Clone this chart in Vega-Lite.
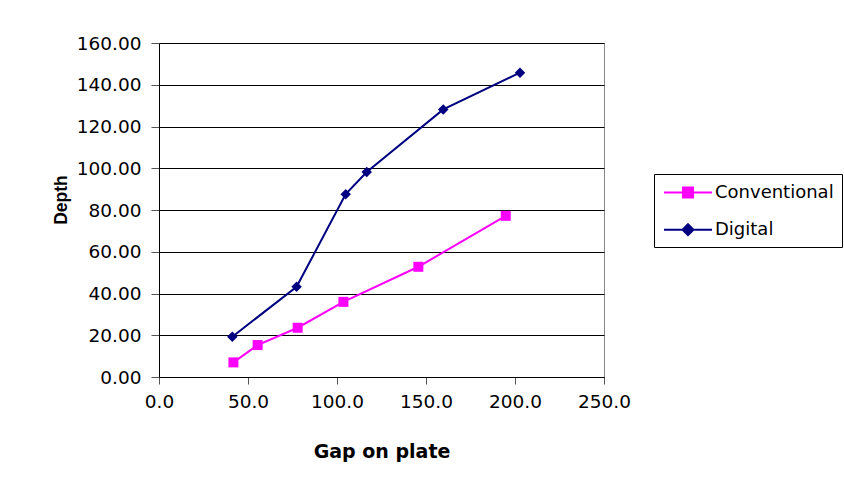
{
  "$schema": "https://vega.github.io/schema/vega-lite/v6.json",
  "autosize": {"type": "none"},
  "width": 445,
  "height": 334,
  "padding": {"left": 159, "top": 43, "right": 240, "bottom": 112},
  "background": "#ffffff",
  "config": {
    "view": {"stroke": "#888888", "strokeWidth": 1},
    "axis": {
      "labelFont": "DejaVu Sans",
      "labelFontSize": 18.5,
      "labelColor": "#000000",
      "domainColor": "#000000",
      "tickColor": "#555555",
      "titleColor": "#000000"
    }
  },
  "data": {
    "values": [
      {"series": "Conventional", "gap": 41.8, "depth": 7.0},
      {"series": "Conventional", "gap": 55.4, "depth": 15.3},
      {"series": "Conventional", "gap": 77.9, "depth": 23.6},
      {"series": "Conventional", "gap": 103.6, "depth": 36.0},
      {"series": "Conventional", "gap": 145.7, "depth": 52.8},
      {"series": "Conventional", "gap": 194.8, "depth": 77.2},
      {"series": "Digital", "gap": 41.2, "depth": 19.3},
      {"series": "Digital", "gap": 77.3, "depth": 43.2},
      {"series": "Digital", "gap": 104.9, "depth": 87.6},
      {"series": "Digital", "gap": 116.7, "depth": 98.2},
      {"series": "Digital", "gap": 159.7, "depth": 128.2},
      {"series": "Digital", "gap": 202.8, "depth": 145.8}
    ]
  },
  "encoding": {
    "x": {
      "field": "gap",
      "type": "quantitative",
      "scale": {"domain": [0, 250], "nice": false},
      "axis": {
        "values": [0, 50, 100, 150, 200, 250],
        "format": ".1f",
        "grid": false,
        "tickSize": 7,
        "labelPadding": 8,
        "labelFlush": false,
        "labelOverlap": false,
        "title": "Gap on plate",
        "titleFont": "DejaVu Sans",
        "titleFontSize": 19,
        "titleFontWeight": "bold",
        "titleBaseline": "alphabetic",
        "titleY": 80
      }
    },
    "y": {
      "field": "depth",
      "type": "quantitative",
      "scale": {"domain": [0, 160], "nice": false},
      "axis": {
        "values": [0, 20, 40, 60, 80, 100, 120, 140, 160],
        "format": ".2f",
        "grid": true,
        "gridColor": "#000000",
        "gridOpacity": 1,
        "tickSize": 8,
        "labelPadding": 10,
        "labelFlush": false,
        "labelOverlap": false,
        "title": "Depth",
        "titleFont": "Liberation Sans",
        "titleFontSize": 17.5,
        "titleFontWeight": "bold",
        "titleBaseline": "alphabetic",
        "titleAngle": -90,
        "titleAlign": "center",
        "titleX": -93,
        "titleY": 156.5
      }
    },
    "color": {
      "field": "series",
      "type": "nominal",
      "scale": {"domain": ["Conventional", "Digital"], "range": ["#FF00FF", "#000080"]},
      "legend": {
        "orient": "none",
        "legendX": 495,
        "legendY": 131,
        "title": null,
        "padding": 7.5,
        "rowPadding": 17.2,
        "symbolSize": 400,
        "symbolOffset": 15.5,
        "labelOffset": 16,
        "labelFont": "DejaVu Sans",
        "labelFontSize": 18,
        "labelColor": "#000000",
        "labelLimit": 300,
        "strokeColor": "#000000",
        "fillColor": "#ffffff",
        "encode": {
          "symbols": {
            "update": {
              "shape": {"signal": "datum.value === 'Digital' ? 'M-2.4,0H2.4M0,-0.55L0.55,0L0,0.55L-0.55,0Z' : 'M-2.4,0H2.4M-0.5,-0.5H0.5V0.5H-0.5Z'"},
              "fill": {"signal": "datum.value === 'Digital' ? '#000080' : '#FF00FF'"},
              "stroke": {"signal": "datum.value === 'Digital' ? '#000080' : '#FF00FF'"},
              "strokeWidth": {"value": 2},
              "opacity": {"value": 1},
              "fillOpacity": {"value": 1},
              "strokeOpacity": {"value": 1}
            }
          }
        }
      }
    }
  },
  "layer": [
    {
      "mark": {"type": "line", "strokeWidth": 2},
      "encoding": {"order": {"field": "gap", "type": "quantitative"}}
    },
    {
      "transform": [{"filter": "datum.series === 'Conventional'"}],
      "mark": {"type": "point", "shape": "square", "filled": true, "size": 100, "opacity": 1}
    },
    {
      "transform": [{"filter": "datum.series === 'Digital'"}],
      "mark": {"type": "point", "shape": "diamond", "filled": true, "size": 110, "opacity": 1}
    }
  ]
}
